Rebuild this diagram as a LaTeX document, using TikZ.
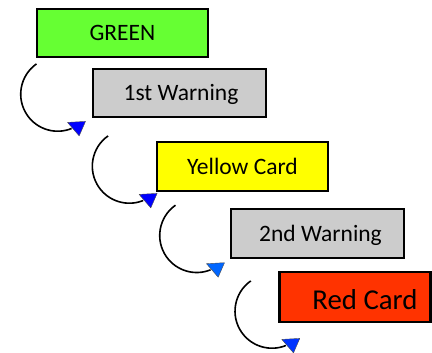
\documentclass[tikz,border=0pt]{standalone}
\usepackage{fontspec}
\setmainfont{Carlito}
\definecolor{cgreen}{HTML}{66FF33}
\definecolor{cgray}{HTML}{CCCCCC}
\definecolor{cyellow}{HTML}{FFFF00}
\definecolor{cred}{HTML}{FF3300}
\definecolor{tipa}{HTML}{0000FF}
\definecolor{tipb}{HTML}{0066FF}
\definecolor{tipc}{HTML}{0033FF}
\begin{document}
\begin{tikzpicture}[x=1pt,y=1pt,
  box/.style={draw=black, line width=2.4pt, minimum height=48pt, inner sep=0pt,
    font=\fontsize{23.5}{28}\selectfont, text height=16pt, text depth=0pt},
  curve/.style={draw=black, line width=1.6pt},
  tiptri/.style={fill=#1, draw=black!70, line width=0.4pt, line join=round}]
\useasboundingbox (0,0) rectangle (432,-353);
\node[box, fill=cgreen, minimum width=171pt] (g) at (122.5,-33) {GREEN};
\node[box, fill=cgray, minimum width=173pt] (w1) at (179.5,-93) {\hspace*{3pt}1st Warning};
\node[box, fill=cyellow, minimum width=171pt, minimum height=49pt] (y) at (242.5,-166.5) {Yellow Card};
\node[box, fill=cgray, minimum width=173pt, minimum height=49pt] (w2) at (317.5,-233.5) {\hspace*{6pt}2nd Warning};
\node[box, fill=cred, minimum width=151pt, minimum height=50pt, font=\fontsize{28.8}{34}\selectfont, text height=24pt] (r) at (355,-297) {\hspace*{20pt}Red Card};
% curved connectors
\draw[curve] ([shift={(0.7,-5.7)}]g.south west) coordinate (s1) arc[start angle=125, end angle=292, radius=37];
\draw[curve] ([shift={(16.3,-17.7)}]w1.south west) coordinate (s2) arc[start angle=125, end angle=292, radius=37];
\draw[curve] ([shift={(19.7,-13)}]y.south west) coordinate (s3) arc[start angle=125, end angle=292, radius=37];
\draw[curve] ([shift={(21,-21.7)}]w2.south west) coordinate (s4) arc[start angle=125, end angle=292, radius=37];
% arrow heads
\path[tiptri=tipa] ([shift={(31,-58.5)}]s1) -- ([shift={(49,-57.5)}]s1) -- ([shift={(42.7,-72)}]s1) -- cycle;
\path[tiptri=tipa] ([shift={(31,-58.5)}]s2) -- ([shift={(49,-57.5)}]s2) -- ([shift={(42.7,-72)}]s2) -- cycle;
\path[tiptri=tipb] ([shift={(31,-58.5)}]s3) -- ([shift={(49,-57.5)}]s3) -- ([shift={(42.7,-72)}]s3) -- cycle;
\path[tiptri=tipc] ([shift={(31,-58.5)}]s4) -- ([shift={(49,-57.5)}]s4) -- ([shift={(42.7,-72)}]s4) -- cycle;
\end{tikzpicture}
\end{document}
